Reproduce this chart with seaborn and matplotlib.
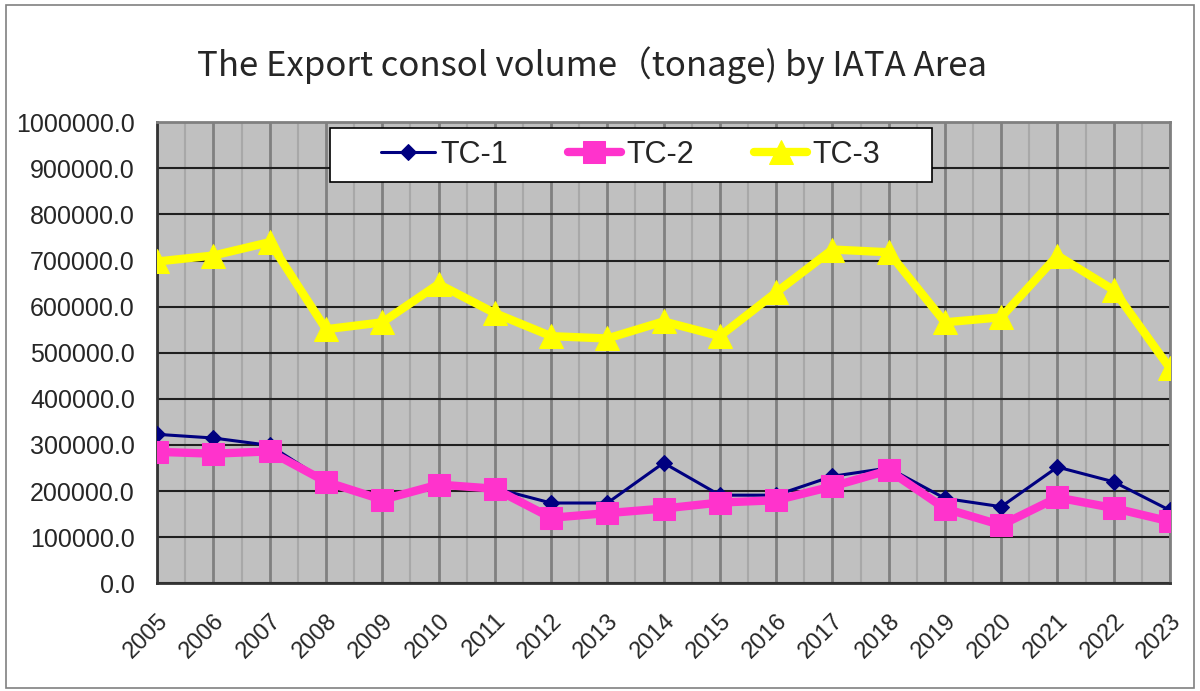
import matplotlib
matplotlib.use("Agg")
import matplotlib.pyplot as plt
import seaborn as sns
import pandas as pd
from matplotlib.patches import Rectangle
from matplotlib.ticker import MultipleLocator, FuncFormatter

# Data
years = list(range(2005, 2024))
tc1 = [323000, 315000, 299000, 221000, 181000, 213000, 206000, 174000, 174000, 261000,
       191000, 191000, 232000, 250000, 184000, 166000, 252000, 220000, 158000]
tc2 = [285000, 281000, 286000, 220000, 181000, 214000, 205000, 142000, 152000, 162000,
       175000, 180000, 210000, 245000, 162000, 126000, 186000, 163000, 134000]
tc3 = [698000, 711000, 740000, 551000, 566000, 649000, 586000, 536000, 531000, 568000,
       536000, 631000, 724000, 718000, 566000, 577000, 711000, 636000, 466000]

df = pd.DataFrame({"year": years, "TC-1": tc1, "TC-2": tc2, "TC-3": tc3})

sns.set_style("white")
plt.rcParams['font.family'] = ['Liberation Sans', 'DejaVu Sans']

fig = plt.figure(figsize=(12, 6.91), dpi=100)
ax = fig.add_axes([0.131, 0.156, 0.844, 0.667])
ax.set_facecolor("#c0c0c0")

# Series
sns.lineplot(data=df, x="year", y="TC-1", ax=ax, color="#000080", lw=2.2,
             marker="D", markersize=8, markeredgecolor="#000080", label="TC-1", zorder=3)
sns.lineplot(data=df, x="year", y="TC-2", ax=ax, color="#ff33cc", lw=6,
             marker="s", markersize=16, markeredgecolor="#ff33cc", label="TC-2", zorder=4)
sns.lineplot(data=df, x="year", y="TC-3", ax=ax, color="#ffff00", lw=6,
             marker="^", markersize=17, markeredgecolor="#ffff00", label="TC-3", zorder=5)

ax.set_xlim(2005, 2023)
ax.set_ylim(0, 1000000)
ax.xaxis.set_major_locator(MultipleLocator(1))
ax.xaxis.set_minor_locator(MultipleLocator(0.5))
ax.yaxis.set_major_locator(MultipleLocator(100000))
ax.yaxis.set_major_formatter(FuncFormatter(lambda v, p: f"{v:.1f}"))

# Grid
ax.grid(which="minor", axis="x", color="#a8a8a8", lw=1.5, zorder=0)
ax.grid(which="major", axis="x", color="#808080", lw=2, zorder=0)
ax.grid(which="major", axis="y", color="#202020", lw=1.5, zorder=0)
ax.set_axisbelow(True)

for s in ax.spines.values():
    s.set_color("#808080")
    s.set_linewidth(2)
ax.spines["bottom"].set_color("#333333")
ax.spines["left"].set_color("#333333")

ax.tick_params(axis="both", which="major", length=6, width=1.5, color="#333333",
               direction="in")
ax.tick_params(axis="x", which="minor", length=0)
ax.tick_params(axis="y", labelsize=18, pad=16)
ax.tick_params(axis="x", labelsize=17, pad=19)
plt.setp(ax.get_xticklabels(), rotation=45, ha="right", rotation_mode="anchor")

ax.set_xlabel("")
ax.set_ylabel("")

# Legend box and entries
fig.patches.append(Rectangle((330 / 1200, 1 - 182 / 691), 602 / 1200, 54 / 691,
                             transform=fig.transFigure, facecolor="white",
                             edgecolor="black", lw=1.2, zorder=6))
leg = ax.legend(loc="center", bbox_to_anchor=(631 / 1200, 1 - 155 / 691),
                bbox_transform=fig.transFigure, ncol=3, fontsize=22, frameon=False,
                handlelength=1.75, columnspacing=1.95, borderpad=0, handletextpad=0.18)
leg.set_zorder(7)
fig.legends.append(leg)
ax.get_legend().remove()

# Title
fig.text(0.493, 0.906, "The Export consol volume（tonage) by IATA Area", ha="center",
         va="center", fontsize=25, family=['Noto Sans CJK JP', 'DejaVu Sans'])

# Outer frame
fig.patches.append(Rectangle((0.005, 0.005), 0.99, 0.988, transform=fig.transFigure,
                             fill=False, edgecolor="#808080", lw=1.2))

fig.savefig("out.png", dpi=100)
